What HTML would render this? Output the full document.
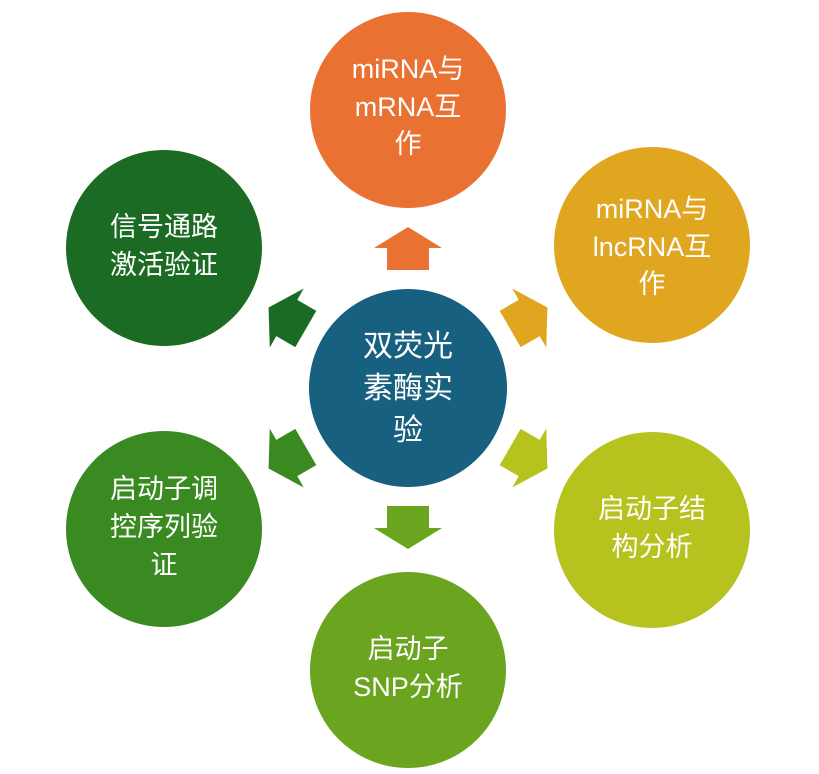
<!DOCTYPE html>
<html><head><meta charset="utf-8"><style>
html,body{margin:0;padding:0;background:#fff;width:819px;height:774px;overflow:hidden}
text{font-family:"Liberation Sans","Noto Sans CJK SC",sans-serif;fill:#fff;text-anchor:middle}
</style></head><body>
<svg width="819" height="774" viewBox="0 0 819 774">
<defs>
<polygon id="ar" points="0,-161 34,-140 21,-140 21,-118 -21,-118 -21,-140 -34,-140"/>
</defs>
<g transform="translate(408,388)">
<use href="#ar" fill="#E97132"/>
<use href="#ar" fill="#E0A620" transform="rotate(60)"/>
<use href="#ar" fill="#B6C21E" transform="rotate(120)"/>
<use href="#ar" fill="#6BA41F" transform="rotate(180)"/>
<use href="#ar" fill="#3A8A22" transform="rotate(240)"/>
<use href="#ar" fill="#1C6B24" transform="rotate(300)"/>
</g>
<circle cx="408" cy="388" r="99" fill="#17607F"/>
<circle cx="408" cy="110" r="98" fill="#E97132"/>
<circle cx="652" cy="245" r="98" fill="#E0A620"/>
<circle cx="652" cy="530" r="98" fill="#B6C21E"/>
<circle cx="408" cy="670" r="98" fill="#6BA41F"/>
<circle cx="164" cy="529" r="98" fill="#3A8A22"/>
<circle cx="164" cy="248" r="98" fill="#1C6B24"/>
<g font-size="30">
<text x="408" y="356">双荧光</text>
<text x="408" y="398">素酶实</text>
<text x="408" y="440">验</text>
</g>
<g font-size="27">
<text x="408" y="78">miRNA与</text>
<text x="408" y="116">mRNA互</text>
<text x="408" y="153">作</text>
<text x="652" y="218">miRNA与</text>
<text x="652" y="256">lncRNA互</text>
<text x="652" y="293">作</text>
<text x="652" y="518">启动子结</text>
<text x="652" y="556">构分析</text>
<text x="408" y="658">启动子</text>
<text x="408" y="696">SNP分析</text>
<text x="164" y="498">启动子调</text>
<text x="164" y="536">控序列验</text>
<text x="164" y="574">证</text>
<text x="164" y="236">信号通路</text>
<text x="164" y="274">激活验证</text>
</g>
</svg>
</body></html>
